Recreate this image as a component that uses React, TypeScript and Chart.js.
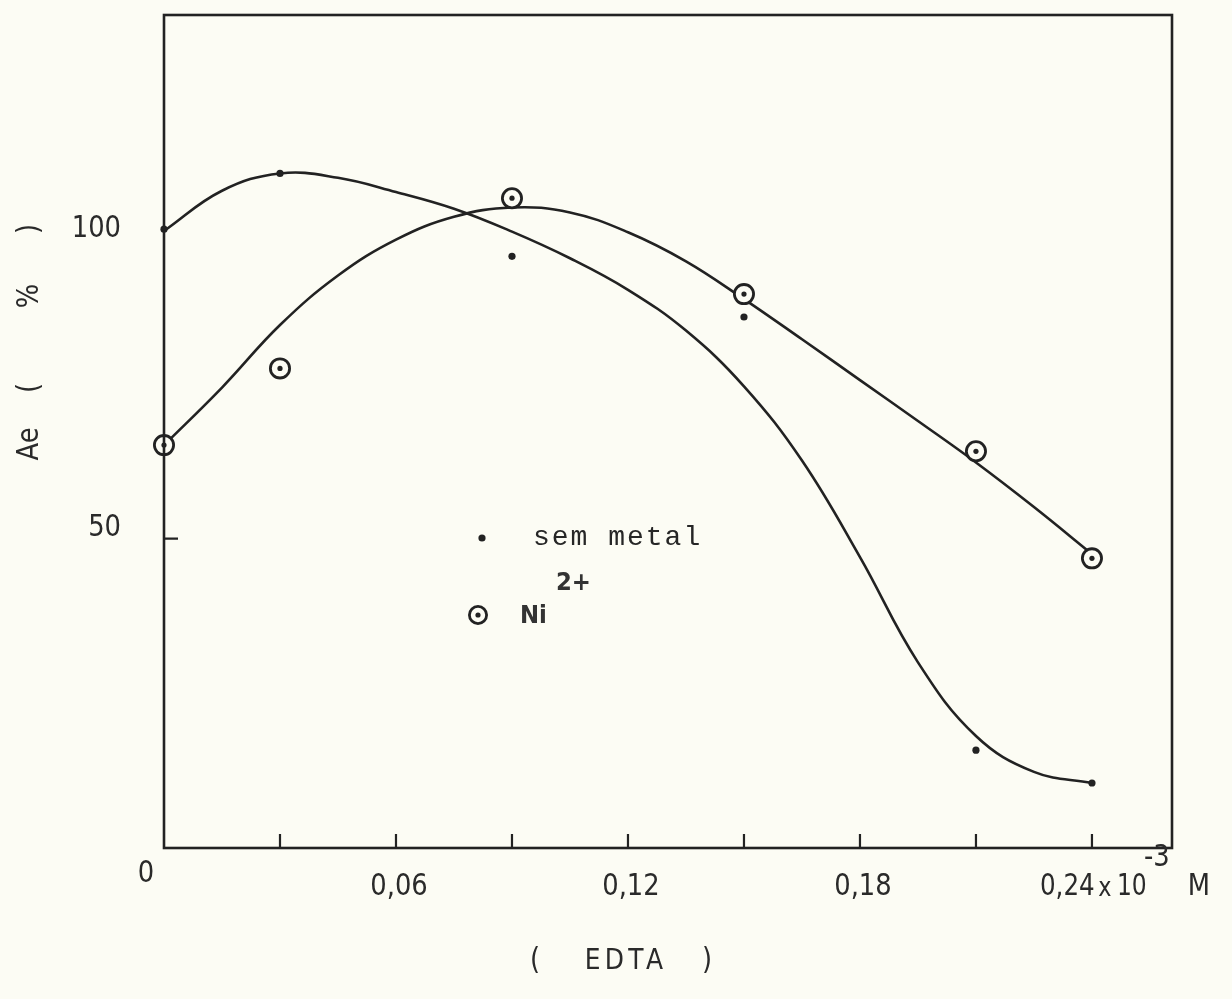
import React, { useEffect, useRef } from "react";
import { Chart, registerables } from "chart.js";

Chart.register(...registerables);

// ---- data ----
const sampleX = [0, 0.03, 0.09, 0.15, 0.21, 0.24];
const semMetal = [100, 109, 95.6, 85.8, 15.8, 10.5];
const niII = [65.1, 77.5, 105, 89.5, 64.1, 46.8];

// hand-drawn fitted curves, every 0.015
const curveX = [0, 0.015, 0.03, 0.045, 0.06, 0.075, 0.09, 0.105, 0.12, 0.135, 0.15, 0.165, 0.18, 0.195, 0.21, 0.225, 0.24];
const semCurveY = [99.7, 106.2, 109.0, 108.3, 106.0, 103.3, 99.6, 95.3, 90.2, 83.6, 74.6, 62.6, 47.0, 30.0, 18.1, 12.3, 10.5];
const niCurveY = [65.1, 74.4, 84.5, 92.5, 98.3, 102.0, 103.5, 102.7, 99.5, 94.8, 88.7, 82.2, 75.6, 69.0, 62.3, 55.1, 47.5];

const xTickValues = [0.03, 0.06, 0.09, 0.12, 0.15, 0.18, 0.21, 0.24];
const xLabelValues = [0.06, 0.12, 0.18];
const xLabels = ["0,06", "0,12", "0,18"];
const yTickValues = [50];
const yLabelValues = [100, 50];
const yLabels = ["100", "50"];

const X_MAX = 0.2607;
const Y_MAX = 134.6;

// ---- styles ----
const PAPER = "#fcfcf4";
const INK = "#222222";
const TEXT_INK = "#2a2a2a";
const LETTER = "'DejaVu Sans', 'Open Sans', sans-serif";
const TYPE = "'Liberation Mono', 'DejaVu Sans Mono', monospace";
const yLabelNudge = [0, -10];

type TOpt = {
  size?: number;
  family?: string;
  weight?: string;
  align?: CanvasTextAlign;
  baseline?: CanvasTextBaseline;
  sx?: number;
  rot?: number;
  spacing?: string;
  color?: string;
};

function txt(ctx: CanvasRenderingContext2D, s: string, x: number, y: number, o: TOpt = {}) {
  ctx.save();
  ctx.translate(x, y);
  if (o.rot) ctx.rotate(o.rot);
  ctx.scale(o.sx ?? 0.86, 1);
  ctx.font = `${o.weight ?? "normal"} ${o.size ?? 30}px ${o.family ?? LETTER}`;
  ctx.fillStyle = o.color ?? TEXT_INK;
  ctx.textAlign = o.align ?? "center";
  ctx.textBaseline = o.baseline ?? "middle";
  (ctx as any).letterSpacing = o.spacing ?? "0px";
  ctx.fillText(s, 0, 0);
  ctx.restore();
}

const paperPlugin = {
  id: "paper",
  beforeDraw(chart: any) {
    const { ctx, width, height } = chart;
    ctx.save();
    ctx.fillStyle = PAPER;
    ctx.fillRect(0, 0, width, height);
    ctx.restore();
  },
};

const framePlugin = {
  id: "frameAndText",
  afterDatasetsDraw(chart: any) {
    const { ctx, chartArea } = chart;
    const { left, top, right, bottom } = chartArea;
    const xs = chart.scales.x;
    const ys = chart.scales.y;
    ctx.save();
    ctx.strokeStyle = INK;
    ctx.lineWidth = 2.6;
    ctx.lineCap = "butt";
    ctx.strokeRect(left, top, right - left, bottom - top);
    ctx.lineWidth = 2.2;
    ctx.beginPath();
    xTickValues.forEach((v) => {
      const px = xs.getPixelForValue(v);
      ctx.moveTo(px, bottom);
      ctx.lineTo(px, bottom - 14);
    });
    yTickValues.forEach((v) => {
      const py = ys.getPixelForValue(v);
      ctx.moveTo(left, py);
      ctx.lineTo(left + 14, py);
    });
    ctx.stroke();
    ctx.restore();
  },
  afterDraw(chart: any) {
    const { ctx, chartArea } = chart;
    const { left, bottom } = chartArea;
    const xs = chart.scales.x;
    const ys = chart.scales.y;

    // y tick labels
    yLabelValues.forEach((v, i) => {
      txt(ctx, yLabels[i], left - 43, ys.getPixelForValue(v) + yLabelNudge[i], { align: "right" });
    });
    // origin
    txt(ctx, "0", left - 18, bottom + 26);
    // x tick labels
    xLabelValues.forEach((v, i) => {
      txt(ctx, xLabels[i], xs.getPixelForValue(v) + 3, bottom + 39);
    });
    const p24 = xs.getPixelForValue(0.24);
    txt(ctx, "0,24", p24 - 52, bottom + 39, { align: "left", sx: 0.82 });
    txt(ctx, "x", p24 + 13, bottom + 41, { size: 26 });
    txt(ctx, "10", p24 + 25, bottom + 39, { align: "left", sx: 0.78 });
    txt(ctx, "-3", p24 + 52, bottom + 10, { align: "left" });
    txt(ctx, "M", p24 + 107, bottom + 39);

    // x title
    txt(ctx, "(", 535, bottom + 113);
    txt(ctx, "EDTA", 626, bottom + 113, { spacing: "5px", size: 29 });
    txt(ctx, ")", 707, bottom + 113);

    // y title (rotated)
    const rot = -Math.PI / 2;
    txt(ctx, "Ae", 30, 444, { rot });
    txt(ctx, "(", 30, 388, { rot });
    txt(ctx, "%", 30, 296, { rot });
    txt(ctx, ")", 30, 229, { rot });

    // legend
    ctx.save();
    ctx.fillStyle = INK;
    ctx.beginPath();
    ctx.arc(482, 538, 3.6, 0, Math.PI * 2);
    ctx.fill();
    ctx.beginPath();
    ctx.arc(478, 615, 2.6, 0, Math.PI * 2);
    ctx.fill();
    ctx.strokeStyle = INK;
    ctx.lineWidth = 2.8;
    ctx.beginPath();
    ctx.arc(478, 615, 8.6, 0, Math.PI * 2);
    ctx.stroke();
    ctx.restore();
    txt(ctx, "sem metal", 533, 545, { family: TYPE, size: 28, align: "left", baseline: "alphabetic", spacing: "2px", sx: 1, color: "#262626" });
    txt(ctx, "Ni", 520, 623, { family: LETTER, size: 24, weight: "bold", align: "left", baseline: "alphabetic", sx: 0.95, color: "#333333" });
    txt(ctx, "2+", 556, 590, { family: LETTER, size: 24, weight: "bold", align: "left", baseline: "alphabetic", sx: 0.95, color: "#333333" });
  },
};

export default function App() {
  const ref = useRef<HTMLCanvasElement>(null);
  useEffect(() => {
    const canvas = ref.current;
    if (!canvas) return;
    const pts = (xs: number[], ys: number[]) => xs.map((x, i) => ({ x, y: ys[i] }));
    const chart = new Chart(canvas, {
      type: "scatter",
      data: {
        datasets: [
          {
            label: "Ni2+ centre",
            data: pts(sampleX, niII),
            pointRadius: 2.6,
            pointBackgroundColor: INK,
            pointBorderWidth: 0,
            showLine: false,
            clip: false,
          } as any,
          {
            label: "Ni2+",
            data: pts(sampleX, niII),
            pointRadius: 9.6,
            pointBorderWidth: 2.8,
            pointBorderColor: INK,
            pointBackgroundColor: PAPER,
            showLine: false,
            clip: false,
          } as any,
          {
            label: "sem metal",
            data: pts(sampleX, semMetal),
            pointRadius: 3.6,
            pointBackgroundColor: INK,
            pointBorderWidth: 0,
            showLine: false,
            clip: false,
          } as any,
          {
            label: "sem metal curve",
            type: "line",
            data: pts(curveX, semCurveY),
            borderColor: INK,
            borderWidth: 2.6,
            pointRadius: 0,
            showLine: true,
            fill: false,
            tension: 0.4,
            borderCapStyle: "round",
            borderJoinStyle: "round",
          } as any,
          {
            label: "Ni2+ curve",
            type: "line",
            data: pts(curveX, niCurveY),
            borderColor: INK,
            borderWidth: 2.6,
            pointRadius: 0,
            showLine: true,
            fill: false,
            tension: 0.4,
            borderCapStyle: "round",
            borderJoinStyle: "round",
          } as any,
        ],
      },
      options: {
        responsive: false,
        animation: false,
        events: [],
        layout: { padding: { left: 164, top: 15, right: 60, bottom: 151 } },
        scales: {
          x: { type: "linear", display: false, min: 0, max: X_MAX },
          y: { type: "linear", display: false, min: 0, max: Y_MAX },
        },
        plugins: { legend: { display: false }, tooltip: { enabled: false } },
      },
      plugins: [paperPlugin, framePlugin],
    });
    return () => chart.destroy();
  }, []);
  return (
    <div style={{ position: "fixed", left: 0, top: 0, width: 1232, height: 999, background: PAPER }}>
      <canvas ref={ref} width={1232} height={999} style={{ display: "block", width: 1232, height: 999 }} />
    </div>
  );
}
